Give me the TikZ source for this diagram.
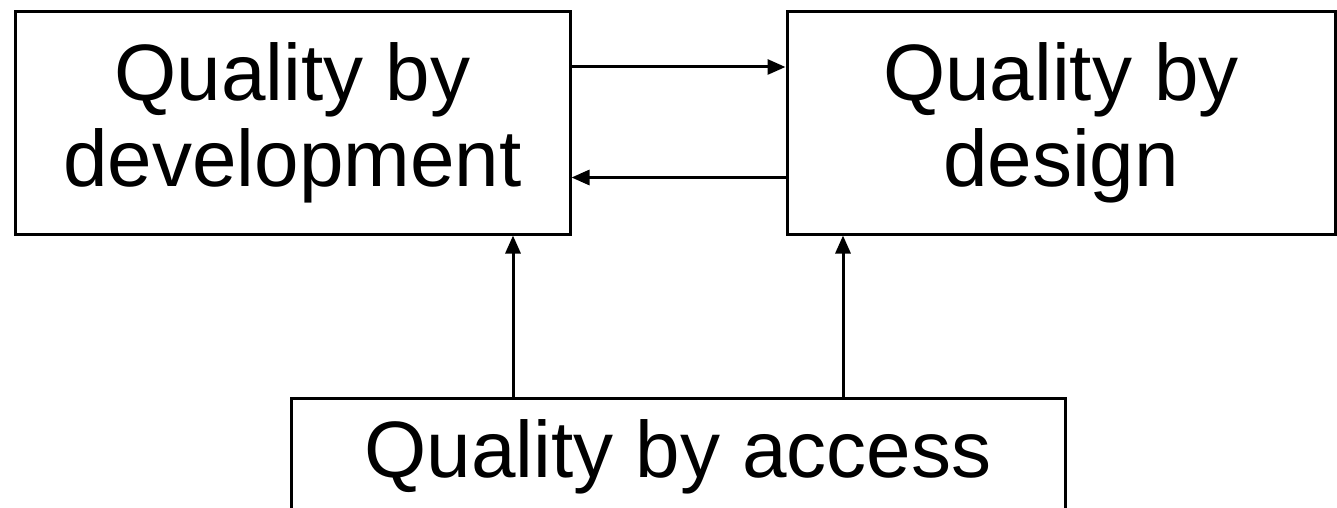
\documentclass[tikz,border=0pt]{standalone}
\usepackage{fontspec}
\setmainfont{Liberation Sans}
\usetikzlibrary{arrows.meta}
\begin{document}
\begin{tikzpicture}[x=1pt,y=-1pt,
  qbox/.style={draw=black, line width=3pt, inner sep=0pt, align=center,
    font=\fontsize{80}{86}\selectfont},
  qtext/.style={inner sep=0pt, font=\fontsize{80}{86}\selectfont},
  arr/.style={draw=black, line width=3pt, -{Triangle[length=18pt,width=15pt]}}]
\useasboundingbox (0,0) rectangle (1337,508);
\node[qbox, minimum width=555pt, minimum height=222pt] (dev) at (292.5,123) {Quality by\\development};
\node[qbox, minimum width=548pt, minimum height=222pt] (des) at (1061,123) {Quality by\\design};
\node[qbox, minimum width=774pt, minimum height=200pt, anchor=north] (acc) at (678,396.5) {};
\node[qtext, anchor=base] (acct) at (678,477) {Quality by access};
\draw[arr] ([yshift=56pt]dev.east) -- ([yshift=56pt]des.west);
\draw[arr] ([yshift=-54.5pt]des.west) -- ([yshift=-54.5pt]dev.east);
\draw[arr] ([xshift=-165pt]acc.north) -- ([xshift=220.5pt]dev.south);
\draw[arr] ([xshift=165pt]acc.north) -- ([xshift=-218pt]des.south);
\end{tikzpicture}
\end{document}
